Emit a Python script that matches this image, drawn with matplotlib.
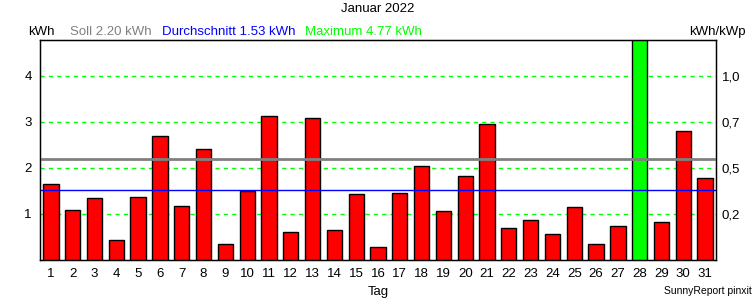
import matplotlib
matplotlib.use("Agg")
import matplotlib.pyplot as plt

# daily yield, Januar 2022 (kWh)
days = list(range(1, 32))
kwh = [1.65, 1.09, 1.35, 0.43, 1.37, 2.70, 1.17, 2.41, 0.35, 1.50,
       3.13, 0.61, 3.09, 0.65, 1.43, 0.28, 1.46, 2.04, 1.07, 1.83,
       2.96, 0.70, 0.87, 0.57, 1.15, 0.35, 0.74, 4.77, 0.83, 2.80, 1.78]
soll = 2.20
avg = 1.53
left_ticks = [1, 2, 3, 4]
right_labels = ["0,2", "0,5", "0,7", "1,0"]

fs = 9.5
plt.rcParams["font.family"] = ["Liberation Sans", "DejaVu Sans"]
plt.rcParams["font.size"] = fs

fig = plt.figure(figsize=(7.56, 3.0), dpi=100)
ax = fig.add_axes([40/756, 1 - 260/300, 676/756, 220/300])

peak = max(kwh)
colours = ["#00ff00" if v == peak else "#ff0000" for v in kwh]
ax.bar(days, kwh, width=0.7, color=colours, edgecolor="black", linewidth=1, zorder=3)

for y in left_ticks:
    ax.axhline(y, color="#00ff00", ls=(0, (3, 3)), lw=1, zorder=1)
ax.axhline(soll, color="#808080", lw=2, zorder=4)
ax.axhline(avg, color="#0000ff", lw=1, zorder=4)

ax.set_xlim(0.5, 31.5)
ax.set_ylim(0, 4.78)
ax.set_xticks(days)
ax.set_yticks(left_ticks)
ax.tick_params(length=0, pad=6, labelsize=fs)
for s in ax.spines.values():
    s.set_linewidth(1)

ax2 = ax.twinx()
ax2.set_ylim(ax.get_ylim())
ax2.set_yticks(left_ticks)
ax2.set_yticklabels(right_labels)
ax2.tick_params(length=0, pad=4, labelsize=fs)

fig.text(378/756, 1 - 9/300, "Januar 2022", ha="center", va="center")
fig.text(28/756, 1 - 32/300, "kWh", ha="left", va="center")
fig.text(70/756, 1 - 32/300, "Soll 2.20 kWh", ha="left", va="center", color="#808080")
fig.text(162/756, 1 - 32/300, "Durchschnitt 1.53 kWh", ha="left", va="center", color="#0000ff")
fig.text(305/756, 1 - 32/300, "Maximum 4.77 kWh", ha="left", va="center", color="#00ff00")
fig.text(746/756, 1 - 32/300, "kWh/kWp", ha="right", va="center")
fig.text(378/756, 1 - 292/300, "Tag", ha="center", va="center")
fig.text(752/756, 1 - 291/300, "SunnyReport pinxit", ha="right", va="center", fontsize=7.5)

fig.savefig("out.png", dpi=100)
